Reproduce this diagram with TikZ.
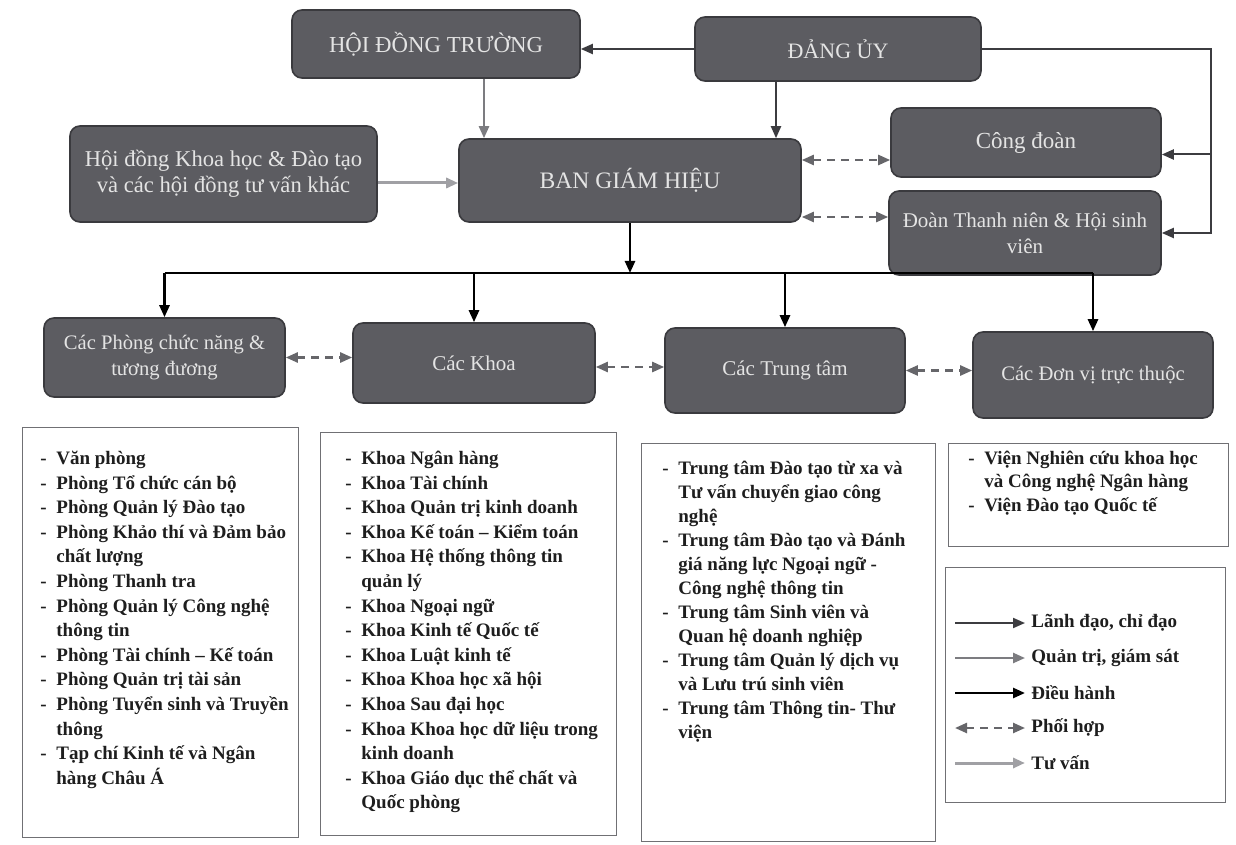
\documentclass[tikz,border=0pt]{standalone}
\usepackage{fontspec}
\setmainfont{Liberation Serif}
\usetikzlibrary{arrows.meta,calc}
\definecolor{boxfill}{HTML}{5C5C61}
\definecolor{boxline}{HTML}{3A3A3E}
\definecolor{boxtext}{HTML}{E4E4E4}
\definecolor{leadc}{HTML}{3C3C40}
\definecolor{qtc}{HTML}{7C7C80}
\definecolor{tvc}{HTML}{A0A0A4}
\definecolor{phc}{HTML}{66666A}
\definecolor{listline}{HTML}{707074}
\definecolor{listtext}{HTML}{1E1E1E}
\newcommand\lidash{\makebox[8pt][l]{-}}
\newcommand\licont{\hspace*{8pt}}
\newcommand\lifirst{\rule{0pt}{9pt}}
\newcommand\fsz[1]{\fontsize{#1}{13}\selectfont}
\begin{document}
\begin{tikzpicture}[x=0.5pt,y=-0.5pt,
  unit/.style={draw=boxline, line width=0.8pt, fill=boxfill, rounded corners=5pt,
    text=boxtext, font=\fsz{11}, align=center, inner sep=2pt},
  listbox/.style={draw=listline, line width=0.6pt, anchor=north west, inner sep=0pt},
  listtxt/.style={anchor=north west, align=left, inner sep=0pt, text=listtext,
    font=\fontsize{9.5}{12.3}\selectfont\bfseries},
  legtxt/.style={anchor=west, inner sep=0pt, text=listtext,
    font=\fontsize{9.5}{12}\selectfont\bfseries},
  tipA/.style={-{Triangle[length=6pt,width=5pt]}},
  lead/.style={draw=leadc, line width=1pt, tipA},
  qt/.style={draw=qtc, line width=1.2pt, tipA},
  dh/.style={draw=black, line width=1.3pt, tipA},
  dhline/.style={draw=black, line width=1.3pt},
  tv/.style={draw=tvc, line width=1.5pt, tipA},
  ph/.style={draw=phc, line width=1.2pt, dash pattern=on 4pt off 3pt,
    {Triangle[length=6pt,width=5pt]}-{Triangle[length=6pt,width=5pt]}}
]
\useasboundingbox (0,0) rectangle (1236,845);
\fill[white] (0,0) rectangle (1236,845);

% ---------- top units ----------
\node[unit, font=\fsz{11.4}, minimum width=144pt, minimum height=34pt] (hdt) at (436,44) {HỘI ĐỒNG TRƯỜNG};
\node[unit, minimum width=143pt, minimum height=32pt] (dangy) at (838,49) {ĐẢNG ỦY};
\node[unit, font=\fsz{11.3}, minimum width=153.5pt, minimum height=48pt] (kh) at (223.5,174)
  {Hội đồng Khoa học \& Đào tạo\\và các hội đồng tư vấn khác};
\node[unit, font=\fsz{11.8}, minimum width=171pt, minimum height=41.5pt] (bgh) at (630,180.5) {BAN GIÁM HIỆU};
\node[unit, font=\fsz{11.5}, minimum width=135pt, minimum height=34.5pt] (cd) at (1026,142.5) {Công đoàn};
\node[unit, font=\fsz{10.5}, minimum width=136pt, minimum height=42pt] (dtn) at (1025,233)
  {Đoàn Thanh niên \& Hội sinh\\viên};

% ---------- second row ----------
\node[unit, font=\fsz{10.3}, minimum width=120.5pt, minimum height=39.5pt] (phong) at (164.5,357.5)
  {Các Phòng chức năng \&\\tương đương};
\node[unit, font=\fsz{10.5}, minimum width=121pt, minimum height=40pt] (khoa) at (474,363) {Các Khoa};
\node[unit, font=\fsz{10.5}, minimum width=120pt, minimum height=42.5pt] (tt) at (785,370.5) {Các Trung tâm};
\node[unit, font=\fsz{10.3}, minimum width=120pt, minimum height=43pt] (dv) at (1093,375) {Các Đơn vị trực thuộc};

% ---------- connectors, top ----------
\coordinate (rcol) at (1211,0);
\coordinate (ycd) at (0,160);
\coordinate (ydt) at (0,217);
\coordinate (bar) at (0,273);

\draw[lead] (dangy.west) -- (dangy.west -| hdt.east);
\draw[lead] (dangy.east) -| (dtn.east -| rcol) -- (dtn.east);
\draw[lead] ([yshift=-6pt]cd.east -| rcol) -- ([yshift=-6pt]cd.east);
\draw[lead] ([xshift=-31pt]dangy.south) -- ([xshift=-31pt]dangy.south |- bgh.north);
\draw[qt] ([xshift=24pt]hdt.south) -- ([xshift=24pt]hdt.south |- bgh.north);
\draw[tv] ([yshift=-4.5pt]kh.east) -- ([yshift=-4.5pt]kh.east -| bgh.west);
\draw[ph] (bgh.east |- ycd) -- (cd.west |- ycd);
\draw[ph] (bgh.east |- ydt) -- (dtn.west |- ydt);

% ---------- executive tree ----------
\draw[dh] (bgh.south) -- (bgh.south |- bar);
\draw[dhline] (phong.north |- bar) -- (dv.north |- bar);
\draw[dh] (phong.north |- bar) -- (phong.north);
\draw[dh] (khoa.north |- bar) -- (khoa.north);
\draw[dh] (tt.north |- bar) -- (tt.north);
\draw[dh] (dv.north |- bar) -- (dv.north);

% ---------- coordination row ----------
\draw[ph] (phong.east) -- (phong.east -| khoa.west);
\draw[ph] ([yshift=-2pt]khoa.east) -- ([yshift=-2pt]khoa.east -| tt.west);
\draw[ph] (tt.east) -- (tt.east -| dv.west);

% ---------- lists ----------
\node[listbox, minimum width=138pt, minimum height=205pt] (l1) at (22,427) {};
\node[listtxt] (l1t) at (40,446) {\lifirst\lidash Văn phòng\\
\lidash Phòng Tổ chức cán bộ\\
\lidash Phòng Quản lý Đào tạo\\
\lidash Phòng Khảo thí và Đảm bảo\\
\licont chất lượng\\
\lidash Phòng Thanh tra\\
\lidash Phòng Quản lý Công nghệ\\
\licont thông tin\\
\lidash Phòng Tài chính -- Kế toán\\
\lidash Phòng Quản trị tài sản\\
\lidash Phòng Tuyển sinh và Truyền\\
\licont thông\\
\lidash Tạp chí Kinh tế và Ngân\\
\licont hàng Châu Á};

\node[listbox, minimum width=148pt, minimum height=201.5pt] (l2) at (320,432) {};
\node[listtxt] (l2t) at (345,446) {\lifirst\lidash Khoa Ngân hàng\\
\lidash Khoa Tài chính\\
\lidash Khoa Quản trị kinh doanh\\
\lidash Khoa Kế toán -- Kiểm toán\\
\lidash Khoa Hệ thống thông tin\\
\licont quản lý\\
\lidash Khoa Ngoại ngữ\\
\lidash Khoa Kinh tế Quốc tế\\
\lidash Khoa Luật kinh tế\\
\lidash Khoa Khoa học xã hội\\
\lidash Khoa Sau đại học\\
\lidash Khoa Khoa học dữ liệu trong\\
\licont kinh doanh\\
\lidash Khoa Giáo dục thể chất và\\
\licont Quốc phòng};

\node[listbox, minimum width=147pt, minimum height=199pt] (l3) at (641,443) {};
\node[listtxt, font=\fontsize{9.5}{12}\selectfont\bfseries] (l3t) at (662,456) {\lifirst\lidash Trung tâm Đào tạo từ xa và\\
\licont Tư vấn chuyển giao công\\
\licont nghệ\\
\lidash Trung tâm Đào tạo và Đánh\\
\licont giá năng lực Ngoại ngữ -\\
\licont Công nghệ thông tin\\
\lidash Trung tâm Sinh viên và\\
\licont Quan hệ doanh nghiệp\\
\lidash Trung tâm Quản lý dịch vụ\\
\licont và Lưu trú sinh viên\\
\lidash Trung tâm Thông tin- Thư\\
\licont viện};

\node[listbox, minimum width=140pt, minimum height=51.5pt] (l4) at (948,443) {};
\node[listtxt, font=\fontsize{9.5}{11.75}\selectfont\bfseries] (l4t) at (968,446) {\lifirst\lidash Viện Nghiên cứu khoa học\\
\licont và Công nghệ Ngân hàng\\
\lidash Viện Đào tạo Quốc tế};

% ---------- legend ----------
\node[listbox, minimum width=140pt, minimum height=117.5pt] (leg) at (945,567) {};
\coordinate (la1) at (955,623);  \coordinate (lb1) at (1025,623);
\coordinate (la2) at (955,658);  \coordinate (lb2) at (1025,658);
\coordinate (la3) at (955,693);  \coordinate (lb3) at (1025,693);
\coordinate (la4) at (955,728);  \coordinate (lb4) at (1025,728);
\coordinate (la5) at (955,763);  \coordinate (lb5) at (1025,763);
\draw[lead] (la1) -- (lb1);
\draw[qt] (la2) -- (lb2);
\draw[dh] (la3) -- (lb3);
\draw[ph] (la4) -- (lb4);
\draw[tv] (la5) -- (lb5);
\node[legtxt] (t1) at (1031,623) {Lãnh đạo, chỉ đạo};
\node[legtxt] (t2) at (1031,658) {Quản trị, giám sát};
\node[legtxt] (t3) at (1031,693) {Điều hành};
\node[legtxt] (t4) at (1031,728) {Phối hợp};
\node[legtxt] (t5) at (1031,763) {Tư vấn};
\end{tikzpicture}
\end{document}
